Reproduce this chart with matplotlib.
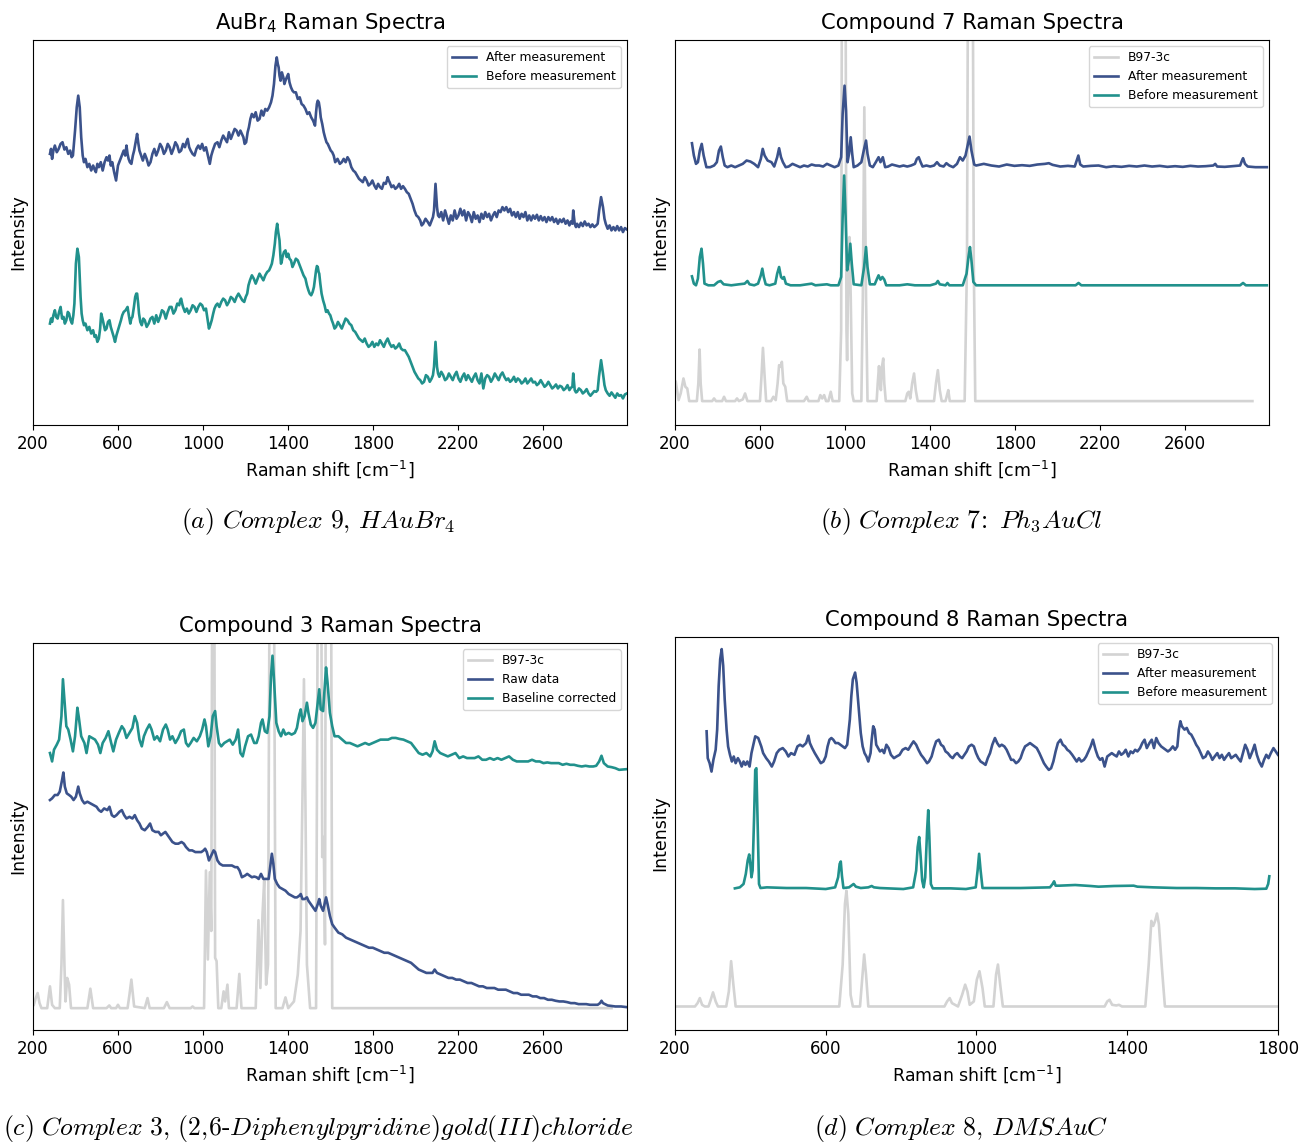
import numpy as np
import matplotlib
matplotlib.use("Agg")
import matplotlib.pyplot as plt

# ---------------- data (Raman shift in cm^-1, intensity in a.u.) ----------------
# (a) AuBr4 -- (shift, intensity) pairs
a_after = [(280, 815), (285, 830), (290, 800), (296, 825), (303, 840), (312, 820), (321, 830), (330, 845), (339, 850), (348, 828),
           (357, 835), (366, 815), (375, 825), (382, 805), (388, 810), (398, 885), (406, 955), (413, 990), (420, 955), (427, 865),
           (434, 810), (440, 790), (447, 800), (456, 775), (465, 785), (474, 765), (483, 780), (490, 768), (496, 760), (503, 785),
           (510, 775), (519, 790), (528, 765), (537, 790), (546, 805), (553, 795), (560, 810), (566, 780), (573, 790), (582, 760),
           (591, 735), (600, 780), (609, 795), (618, 810), (627, 825), (634, 810), (640, 840), (645, 815), (650, 800), (656, 790),
           (663, 785), (670, 810), (676, 825), (683, 850), (690, 875), (695, 850), (701, 825), (709, 810), (717, 795), (726, 815),
           (735, 800), (744, 780), (753, 790), (762, 815), (771, 830), (780, 810), (789, 825), (798, 845), (807, 835), (816, 815),
           (825, 825), (834, 845), (843, 835), (852, 815), (861, 830), (870, 850), (879, 840), (888, 820), (897, 825), (906, 845),
           (915, 835), (922, 850), (928, 860), (935, 835), (942, 825), (951, 815), (960, 810), (969, 830), (978, 840), (987, 830),
           (996, 845), (1005, 825), (1014, 835), (1023, 810), (1032, 785), (1039, 810), (1046, 825), (1057, 845), (1068, 850), (1077, 835),
           (1086, 855), (1095, 870), (1104, 860), (1113, 850), (1122, 880), (1131, 860), (1140, 875), (1149, 890), (1158, 885), (1167, 870),
           (1176, 885), (1183, 875), (1190, 865), (1196, 845), (1203, 850), (1210, 880), (1216, 895), (1223, 920), (1230, 935), (1239, 925),
           (1248, 940), (1257, 915), (1266, 920), (1275, 945), (1284, 930), (1293, 950), (1302, 945), (1311, 955), (1320, 970), (1327, 990),
           (1334, 1025), (1341, 1080), (1347, 1105), (1352, 1085), (1356, 1075), (1360, 1050), (1365, 1035), (1371, 1060), (1378, 1045), (1383, 1025),
           (1388, 1035), (1394, 1045), (1401, 1055), (1407, 1030), (1414, 1015), (1421, 1005), (1428, 1000), (1437, 1000), (1446, 980), (1455, 985),
           (1464, 965), (1473, 960), (1482, 950), (1491, 935), (1500, 940), (1509, 925), (1518, 915), (1527, 900), (1532, 940), (1536, 965),
           (1540, 975), (1545, 970), (1550, 950), (1554, 925), (1561, 905), (1568, 880), (1574, 865), (1581, 850), (1587, 845), (1594, 835),
           (1601, 825), (1608, 820), (1615, 810), (1622, 790), (1633, 800), (1644, 785), (1653, 790), (1662, 800), (1671, 790), (1680, 805),
           (1689, 795), (1698, 775), (1707, 765), (1716, 760), (1725, 750), (1734, 740), (1743, 735), (1752, 730), (1761, 745), (1770, 735),
           (1779, 720), (1788, 725), (1797, 735), (1806, 720), (1815, 710), (1824, 725), (1833, 715), (1842, 710), (1851, 728), (1860, 725),
           (1865, 735), (1869, 745), (1874, 735), (1878, 730), (1887, 715), (1896, 720), (1905, 710), (1914, 715), (1923, 725), (1932, 710),
           (1941, 718), (1950, 710), (1959, 700), (1968, 695), (1977, 680), (1986, 665), (1995, 645), (2004, 630), (2013, 625), (2022, 615),
           (2029, 600), (2036, 605), (2047, 620), (2058, 610), (2067, 600), (2076, 615), (2082, 625), (2087, 645), (2094, 725), (2101, 655),
           (2106, 630), (2112, 625), (2121, 640), (2130, 615), (2139, 645), (2148, 625), (2157, 605), (2166, 630), (2175, 615), (2184, 645),
           (2193, 620), (2202, 630), (2211, 650), (2220, 630), (2229, 645), (2238, 615), (2247, 640), (2256, 630), (2265, 610), (2274, 640),
           (2283, 620), (2292, 630), (2301, 610), (2310, 635), (2319, 620), (2328, 640), (2337, 625), (2346, 635), (2355, 615), (2364, 630),
           (2373, 640), (2382, 625), (2391, 645), (2400, 640), (2409, 655), (2418, 645), (2427, 655), (2436, 640), (2445, 650), (2454, 630),
           (2463, 640), (2472, 625), (2481, 640), (2490, 620), (2499, 635), (2508, 625), (2517, 640), (2526, 615), (2535, 630), (2544, 615),
           (2553, 630), (2562, 620), (2571, 632), (2580, 615), (2589, 628), (2598, 615), (2607, 625), (2616, 610), (2625, 625), (2634, 615),
           (2643, 625), (2652, 610), (2661, 620), (2670, 605), (2679, 618), (2688, 610), (2697, 620), (2706, 605), (2715, 615), (2724, 600),
           (2731, 612), (2738, 605), (2742, 645), (2749, 605), (2755, 595), (2760, 605), (2769, 595), (2778, 608), (2787, 598), (2796, 612),
           (2805, 600), (2814, 605), (2823, 595), (2832, 603), (2841, 595), (2850, 600), (2857, 605), (2864, 645), (2873, 685), (2882, 655),
           (2889, 620), (2895, 605), (2904, 590), (2913, 600), (2922, 585), (2931, 595), (2940, 585), (2949, 598), (2958, 585), (2967, 595),
           (2976, 580), (2985, 592), (2994, 588)]

a_before = [(280, 305), (285, 320), (290, 310), (296, 330), (303, 345), (309, 325), (316, 320), (323, 340), (330, 355), (337, 320),
            (344, 325), (350, 305), (357, 315), (364, 340), (370, 335), (377, 315), (384, 305), (390, 330), (395, 365), (402, 485),
            (409, 530), (416, 505), (424, 385), (429, 335), (434, 315), (440, 300), (447, 305), (456, 285), (465, 295), (474, 275),
            (483, 285), (490, 265), (496, 270), (503, 250), (510, 260), (516, 290), (521, 335), (527, 320), (532, 305), (539, 285),
            (546, 290), (553, 310), (560, 315), (566, 295), (573, 280), (580, 265), (586, 250), (593, 270), (600, 285), (607, 300),
            (614, 315), (620, 330), (627, 340), (636, 345), (645, 355), (651, 330), (658, 305), (663, 320), (668, 325), (675, 355),
            (681, 385), (686, 395), (690, 395), (695, 365), (699, 335), (705, 310), (712, 300), (719, 320), (726, 315), (735, 295),
            (744, 305), (753, 320), (762, 325), (771, 305), (780, 330), (789, 310), (798, 325), (807, 345), (816, 340), (825, 320),
            (834, 340), (843, 355), (852, 355), (861, 335), (870, 345), (879, 365), (888, 360), (893, 375), (897, 380), (902, 365),
            (906, 355), (915, 340), (924, 350), (933, 335), (942, 345), (951, 360), (960, 355), (969, 340), (978, 355), (987, 365),
            (996, 360), (1005, 345), (1014, 350), (1021, 320), (1028, 290), (1034, 300), (1041, 315), (1048, 335), (1054, 350), (1061, 360),
            (1068, 365), (1077, 355), (1086, 370), (1095, 380), (1104, 375), (1113, 360), (1122, 370), (1131, 385), (1140, 380), (1149, 370),
            (1158, 385), (1167, 395), (1176, 385), (1185, 375), (1194, 370), (1201, 385), (1208, 395), (1214, 420), (1221, 435), (1230, 450),
            (1239, 440), (1248, 425), (1257, 440), (1266, 455), (1275, 445), (1284, 435), (1293, 450), (1302, 460), (1311, 465), (1318, 475),
            (1324, 485), (1331, 510), (1338, 545), (1343, 580), (1349, 605), (1354, 580), (1360, 555), (1364, 510), (1367, 485), (1370, 490),
            (1374, 505), (1381, 520), (1388, 525), (1394, 505), (1401, 515), (1407, 500), (1414, 495), (1421, 475), (1428, 485), (1437, 500),
            (1446, 495), (1455, 480), (1464, 465), (1473, 450), (1482, 440), (1489, 420), (1496, 405), (1502, 395), (1509, 390), (1516, 400),
            (1522, 415), (1527, 440), (1532, 465), (1536, 478), (1540, 475), (1544, 460), (1547, 455), (1552, 425), (1558, 395), (1565, 375),
            (1572, 360), (1579, 340), (1586, 345), (1593, 335), (1599, 330), (1606, 315), (1612, 305), (1619, 290), (1626, 295), (1635, 310),
            (1644, 300), (1653, 290), (1662, 305), (1671, 320), (1680, 315), (1689, 305), (1698, 300), (1707, 285), (1716, 280), (1725, 270),
            (1734, 260), (1743, 255), (1752, 250), (1761, 260), (1770, 245), (1779, 235), (1788, 240), (1797, 250), (1806, 235), (1815, 245),
            (1824, 240), (1833, 255), (1842, 245), (1851, 235), (1860, 250), (1869, 260), (1878, 245), (1887, 235), (1896, 240), (1905, 230),
            (1914, 235), (1923, 245), (1932, 230), (1941, 225), (1950, 225), (1959, 215), (1968, 205), (1977, 190), (1986, 175), (1995, 160),
            (2004, 150), (2013, 140), (2022, 135), (2031, 125), (2040, 130), (2049, 150), (2058, 145), (2067, 130), (2076, 140), (2082, 150),
            (2087, 175), (2094, 250), (2101, 175), (2106, 155), (2112, 145), (2121, 160), (2130, 150), (2139, 135), (2148, 140), (2157, 155),
            (2166, 145), (2175, 135), (2184, 150), (2193, 160), (2202, 140), (2211, 130), (2220, 145), (2229, 155), (2238, 135), (2247, 150),
            (2256, 140), (2265, 130), (2274, 145), (2283, 155), (2292, 135), (2301, 125), (2310, 155), (2319, 110), (2328, 140), (2337, 150),
            (2346, 145), (2355, 130), (2364, 140), (2373, 155), (2382, 145), (2391, 135), (2400, 150), (2409, 158), (2418, 145), (2427, 135),
            (2436, 140), (2445, 130), (2454, 135), (2463, 145), (2472, 130), (2481, 140), (2490, 135), (2499, 125), (2508, 130), (2517, 140),
            (2526, 125), (2535, 132), (2544, 140), (2553, 128), (2562, 130), (2571, 120), (2580, 125), (2589, 135), (2598, 125), (2607, 115),
            (2616, 120), (2625, 130), (2634, 120), (2643, 110), (2652, 115), (2661, 122), (2670, 110), (2679, 118), (2688, 115), (2697, 105),
            (2706, 110), (2715, 120), (2724, 105), (2731, 112), (2738, 115), (2742, 155), (2749, 105), (2755, 98), (2760, 100), (2769, 110),
            (2778, 105), (2787, 95), (2796, 100), (2805, 108), (2814, 95), (2823, 88), (2832, 95), (2841, 102), (2850, 100), (2857, 105),
            (2863, 145), (2873, 195), (2882, 155), (2889, 120), (2895, 105), (2904, 95), (2913, 88), (2922, 98), (2931, 90), (2940, 82),
            (2949, 95), (2958, 88), (2967, 90), (2976, 80), (2985, 92), (2994, 95)]

# (b) Compound 7
b_calc_x = [204, 217, 227, 240, 249, 258, 267, 303, 310, 316, 321, 328, 375, 384, 393, 422, 431, 440, 483, 492,
            501, 519, 530, 541, 600, 607, 614, 622, 629, 652, 663, 674, 683, 690, 697, 703, 710, 719, 728, 807,
            820, 829, 875, 884, 893, 902, 911, 922, 933, 942, 973, 982, 987, 1001, 1007, 1010, 1016, 1021, 1027, 1034,
            1041, 1077, 1084, 1091, 1099, 1106, 1149, 1154, 1160, 1165, 1169, 1174, 1180, 1185, 1192, 1284, 1293, 1300, 1307, 1316,
            1325, 1333, 1342, 1419, 1428, 1437, 1446, 1455, 1473, 1480, 1486, 1493, 1563, 1574, 1581, 1599, 1606, 1613, 2917]
b_calc_y = [130, 75, 95, 140, 115, 110, 72, 72, 125, 227, 125, 72, 72, 80, 72, 72, 85, 72, 72, 80,
            72, 77, 95, 72, 72, 145, 232, 145, 72, 72, 85, 75, 125, 180, 175, 190, 125, 115, 72, 72,
            85, 72, 72, 90, 80, 90, 72, 72, 100, 72, 72, 285, 1800, 1800, 285, 195, 485, 565, 385, 95,
            72, 72, 385, 955, 385, 72, 72, 125, 177, 125, 105, 175, 200, 125, 72, 72, 95, 100, 80, 125,
            155, 105, 72, 72, 125, 165, 105, 72, 72, 90, 105, 72, 72, 485, 1800, 1800, 485, 72, 72]

b_after_x = [280, 289, 299, 308, 317, 326, 335, 348, 366, 384, 397, 407, 416, 425, 434, 447, 465, 483, 501, 519,
             537, 555, 573, 591, 604, 613, 622, 636, 654, 667, 681, 690, 699, 708, 721, 735, 753, 771, 789, 807,
             825, 843, 861, 879, 897, 915, 933, 951, 969, 982, 989, 998, 1005, 1012, 1019, 1027, 1034, 1041, 1059, 1077,
             1090, 1099, 1106, 1117, 1131, 1145, 1158, 1167, 1178, 1189, 1203, 1221, 1239, 1257, 1275, 1293, 1311, 1329, 1338, 1347,
             1356, 1365, 1383, 1401, 1419, 1433, 1446, 1464, 1477, 1491, 1509, 1527, 1541, 1554, 1567, 1577, 1586, 1595, 1608, 1617,
             1653, 1689, 1725, 1761, 1797, 1833, 1869, 1905, 1941, 1959, 1977, 2013, 2049, 2081, 2090, 2098, 2107, 2121, 2157, 2193,
             2229, 2265, 2301, 2337, 2373, 2409, 2445, 2481, 2517, 2553, 2589, 2625, 2661, 2697, 2733, 2742, 2751, 2787, 2823, 2859,
             2868, 2873, 2882, 2895, 2931, 2985]
b_after_y = [847, 810, 785, 790, 825, 845, 810, 775, 775, 780, 790, 825, 837, 805, 780, 775, 780, 775, 780, 785,
             795, 792, 785, 775, 800, 830, 810, 795, 790, 777, 805, 832, 805, 790, 775, 777, 785, 780, 775, 780,
             777, 783, 780, 780, 777, 785, 780, 775, 780, 805, 935, 1020, 945, 790, 815, 865, 815, 775, 780, 790,
             830, 855, 815, 780, 775, 790, 805, 790, 805, 775, 777, 783, 780, 777, 780, 777, 780, 785, 800, 805,
             790, 777, 780, 777, 780, 790, 780, 777, 787, 780, 775, 785, 805, 795, 810, 840, 867, 825, 783, 780,
             785, 780, 777, 783, 779, 781, 779, 783, 785, 787, 782, 777, 779, 777, 795, 810, 783, 777, 779, 780,
             775, 778, 776, 779, 777, 780, 777, 779, 776, 778, 776, 779, 777, 778, 780, 785, 777, 776, 778, 780,
             795, 802, 785, 777, 775, 775]

b_before_x = [280, 289, 299, 308, 317, 325, 332, 339, 357, 384, 402, 415, 429, 465, 501, 528, 541, 551, 573, 591,
              604, 611, 618, 627, 645, 672, 681, 690, 699, 706, 713, 722, 744, 789, 843, 861, 915, 933, 969, 982,
              989, 996, 1003, 1010, 1018, 1025, 1032, 1041, 1077, 1090, 1099, 1106, 1117, 1140, 1149, 1158, 1167, 1176, 1185, 1194,
              1257, 1293, 1329, 1401, 1428, 1437, 1446, 1473, 1482, 1491, 1554, 1572, 1581, 1588, 1595, 1604, 1617, 2085, 2099, 2112,
              2859, 2873, 2886, 2985]
b_before_y = [447, 425, 420, 440, 505, 530, 485, 425, 420, 420, 430, 433, 423, 420, 423, 425, 433, 423, 420, 425,
              450, 470, 445, 423, 420, 425, 455, 475, 445, 440, 445, 425, 420, 420, 425, 420, 423, 420, 420, 445,
              625, 750, 625, 465, 495, 545, 485, 423, 420, 475, 535, 475, 423, 423, 437, 450, 437, 445, 437, 420,
              420, 423, 420, 420, 425, 433, 423, 420, 427, 420, 420, 455, 505, 535, 495, 430, 420, 420, 427, 420,
              420, 427, 420, 420]

# (c) Compound 3
c_calc_x = [204, 213, 222, 231, 240, 267, 280, 290, 303, 326, 334, 341, 348, 353, 361, 370, 379, 456, 470, 483,
            546, 559, 568, 591, 600, 609, 645, 654, 663, 676, 726, 739, 749, 816, 830, 843, 942, 951, 960, 1005,
            1014, 1023, 1032, 1039, 1045, 1052, 1057, 1064, 1072, 1086, 1097, 1104, 1115, 1122, 1158, 1171, 1181, 1248, 1261, 1270,
            1280, 1288, 1297, 1306, 1316, 1331, 1342, 1374, 1388, 1401, 1428, 1446, 1459, 1468, 1475, 1482, 1489, 1504, 1532, 1543,
            1554, 1561, 1568, 1574, 1579, 1601, 1608, 2922]
c_calc_y = [75, 95, 110, 80, 65, 65, 130, 75, 65, 65, 195, 387, 195, 85, 155, 135, 65, 65, 123, 65,
            65, 73, 65, 65, 75, 65, 65, 105, 150, 70, 65, 95, 65, 65, 83, 65, 65, 70, 65, 65,
            475, 210, 470, 295, 1800, 1800, 215, 205, 65, 65, 115, 85, 135, 65, 65, 167, 65, 65, 327, 125,
            345, 445, 135, 195, 1800, 1800, 65, 65, 97, 65, 85, 165, 295, 695, 1045, 675, 195, 65, 65, 1800,
            1800, 515, 575, 255, 1800, 1800, 65, 65]

c_raw_x = [280, 290, 303, 316, 326, 337, 343, 350, 359, 370, 380, 391, 402, 413, 420, 431, 442, 456, 470, 485,
           499, 510, 521, 535, 550, 560, 571, 582, 593, 607, 618, 629, 640, 654, 668, 679, 690, 701, 712, 726,
           740, 751, 762, 776, 791, 802, 812, 823, 834, 845, 856, 870, 884, 899, 910, 920, 935, 949, 964, 978,
           992, 1003, 1010, 1018, 1028, 1039, 1050, 1057, 1068, 1079, 1093, 1108, 1122, 1136, 1151, 1162, 1172, 1183, 1198, 1208,
           1219, 1230, 1241, 1252, 1262, 1273, 1284, 1298, 1309, 1316, 1324, 1331, 1338, 1349, 1360, 1374, 1388, 1403, 1417, 1432,
           1442, 1453, 1460, 1468, 1478, 1489, 1496, 1507, 1518, 1529, 1540, 1547, 1554, 1565, 1572, 1579, 1586, 1597, 1608, 1619,
           1637, 1655, 1673, 1691, 1709, 1727, 1745, 1763, 1781, 1799, 1817, 1835, 1853, 1871, 1889, 1907, 1925, 1943, 1961, 1979,
           1997, 2015, 2033, 2051, 2069, 2080, 2090, 2101, 2119, 2137, 2155, 2173, 2191, 2209, 2227, 2245, 2263, 2281, 2299, 2317,
           2335, 2353, 2371, 2389, 2407, 2425, 2443, 2461, 2479, 2497, 2515, 2533, 2551, 2569, 2587, 2605, 2623, 2641, 2659, 2677,
           2695, 2713, 2731, 2749, 2767, 2785, 2803, 2821, 2839, 2857, 2868, 2875, 2882, 2904, 2940, 2967, 2994]
c_raw_y = [685, 690, 700, 700, 710, 745, 767, 725, 705, 700, 695, 685, 695, 725, 705, 685, 675, 680, 675, 670,
           665, 655, 650, 660, 655, 665, 640, 635, 640, 650, 655, 640, 630, 635, 630, 640, 625, 615, 600, 595,
           605, 615, 595, 590, 590, 580, 585, 590, 580, 570, 560, 555, 555, 560, 555, 545, 535, 535, 530, 530,
           530, 535, 540, 530, 505, 520, 535, 530, 505, 495, 490, 490, 490, 490, 485, 485, 475, 455, 460, 465,
           460, 455, 457, 455, 450, 465, 450, 450, 450, 485, 525, 495, 450, 435, 425, 420, 415, 405, 400, 395,
           395, 400, 405, 390, 390, 395, 385, 375, 365, 355, 375, 390, 370, 355, 375, 395, 375, 340, 315, 305,
           290, 285, 275, 270, 265, 260, 255, 250, 245, 245, 240, 235, 230, 230, 225, 220, 215, 210, 205, 200,
           190, 180, 175, 170, 170, 170, 180, 170, 165, 160, 155, 155, 150, 150, 145, 140, 140, 135, 130, 130,
           125, 125, 125, 120, 120, 120, 115, 110, 110, 105, 105, 105, 100, 100, 95, 95, 90, 90, 87, 85,
           85, 83, 80, 80, 77, 77, 77, 75, 75, 75, 80, 87, 80, 73, 70, 70, 68]

c_corr_x = [280, 290, 299, 312, 323, 334, 341, 348, 357, 366, 377, 388, 398, 409, 416, 427, 442, 452, 465, 478,
            492, 506, 517, 528, 542, 555, 568, 578, 591, 604, 618, 629, 640, 654, 668, 679, 690, 701, 712, 722,
            735, 748, 758, 771, 784, 798, 812, 825, 834, 845, 856, 870, 884, 897, 910, 920, 931, 942, 956, 971,
            985, 996, 1007, 1014, 1025, 1036, 1046, 1057, 1064, 1075, 1086, 1100, 1113, 1126, 1140, 1154, 1165, 1176, 1187, 1198,
            1212, 1226, 1241, 1252, 1262, 1273, 1280, 1291, 1302, 1313, 1320, 1327, 1334, 1345, 1356, 1367, 1378, 1388, 1403, 1417,
            1432, 1442, 1453, 1460, 1468, 1478, 1489, 1496, 1507, 1518, 1529, 1540, 1547, 1554, 1565, 1572, 1579, 1586, 1597, 1608,
            1619, 1637, 1655, 1673, 1691, 1709, 1727, 1745, 1763, 1781, 1799, 1817, 1835, 1853, 1871, 1889, 1907, 1925, 1943, 1961,
            1979, 1997, 2015, 2033, 2051, 2069, 2080, 2090, 2101, 2116, 2134, 2152, 2170, 2188, 2206, 2224, 2242, 2260, 2278, 2296,
            2314, 2332, 2350, 2368, 2386, 2404, 2422, 2440, 2458, 2476, 2494, 2512, 2530, 2548, 2566, 2584, 2602, 2620, 2638, 2656,
            2674, 2692, 2710, 2728, 2746, 2764, 2782, 2800, 2818, 2836, 2850, 2864, 2875, 2886, 2904, 2922, 2940, 2958, 2994]
c_corr_y = [825, 800, 835, 850, 865, 935, 1045, 985, 905, 895, 865, 830, 875, 960, 930, 875, 855, 825, 875, 870,
            865, 850, 825, 855, 870, 890, 855, 830, 865, 885, 905, 895, 870, 885, 900, 935, 915, 865, 845, 875,
            895, 910, 895, 865, 875, 860, 895, 910, 895, 865, 875, 855, 870, 890, 895, 855, 845, 855, 870, 860,
            875, 895, 925, 905, 845, 875, 935, 950, 905, 855, 845, 855, 860, 865, 850, 865, 895, 825, 815, 845,
            875, 880, 855, 855, 875, 915, 925, 890, 885, 935, 1055, 1115, 1045, 915, 890, 875, 895, 880, 885, 880,
            885, 900, 940, 955, 920, 935, 975, 945, 910, 900, 915, 975, 1015, 955, 950, 1015, 1080, 1035, 945, 905,
            875, 875, 865, 855, 855, 850, 845, 850, 855, 850, 855, 860, 865, 865, 865, 870, 870, 867, 865, 860,
            855, 840, 825, 820, 825, 815, 830, 860, 835, 825, 820, 815, 820, 825, 810, 815, 810, 810, 810, 815,
            805, 805, 810, 805, 810, 805, 810, 815, 805, 800, 800, 800, 800, 805, 800, 800, 795, 797, 795, 795,
            795, 790, 793, 790, 790, 787, 785, 787, 785, 785, 787, 800, 817, 795, 785, 783, 780, 775, 777]

# (d) Compound 8
d_calc_x = [201, 253, 260, 266, 272, 279, 289, 295, 301, 308, 314, 336, 343, 349, 355, 361, 636, 645, 651, 655,
            660, 666, 672, 691, 697, 702, 707, 713, 915, 922, 929, 935, 951, 962, 970, 976, 982, 993, 1001, 1008,
            1016, 1022, 1045, 1052, 1057, 1063, 1070, 1340, 1347, 1353, 1360, 1371, 1378, 1386, 1448, 1457, 1464, 1469, 1474, 1479,
            1484, 1492, 1500, 1800]
d_calc_y = [70, 70, 80, 95, 75, 70, 70, 90, 112, 85, 70, 70, 115, 205, 135, 70, 70, 195, 375, 415,
            345, 105, 70, 70, 155, 225, 165, 70, 70, 85, 95, 80, 70, 105, 135, 115, 75, 85, 150, 175,
            125, 70, 70, 165, 195, 135, 70, 70, 85, 90, 75, 73, 75, 70, 70, 195, 325, 310, 325, 347,
            315, 185, 70, 70]

d_after_x = [284, 287, 292, 297, 302, 308, 312, 316, 320, 324, 328, 332, 337, 341, 346, 351, 356, 361, 367, 372,
             377, 382, 387, 392, 398, 403, 408, 413, 421, 429, 434, 442, 449, 457, 463, 470, 477, 486, 494, 501,
             508, 517, 525, 532, 539, 548, 554, 558, 564, 571, 579, 587, 594, 600, 605, 610, 615, 620, 626, 633,
             639, 645, 651, 657, 664, 668, 672, 678, 682, 687, 693, 698, 703, 708, 713, 719, 722, 726, 730, 734,
             739, 744, 750, 755, 761, 767, 773, 781, 788, 796, 804, 812, 819, 827, 833, 840, 846, 853, 860, 869,
             874, 881, 887, 893, 900, 906, 912, 918, 924, 931, 937, 943, 949, 956, 962, 968, 974, 980, 987, 993,
             999, 1005, 1011, 1018, 1024, 1030, 1036, 1042, 1049, 1055, 1061, 1067, 1074, 1080, 1086, 1092, 1098, 1105, 1111, 1117,
             1123, 1129, 1136, 1142, 1148, 1154, 1160, 1167, 1173, 1179, 1185, 1192, 1198, 1204, 1210, 1216, 1223, 1229, 1235, 1241,
             1247, 1254, 1260, 1266, 1272, 1278, 1285, 1291, 1297, 1303, 1309, 1316, 1322, 1328, 1334, 1340, 1347, 1353, 1359, 1365,
             1372, 1378, 1384, 1390, 1396, 1403, 1409, 1415, 1421, 1427, 1434, 1440, 1446, 1452, 1459, 1465, 1471, 1477, 1483, 1490,
             1496, 1502, 1508, 1514, 1521, 1527, 1533, 1537, 1541, 1545, 1552, 1558, 1564, 1570, 1577, 1583, 1589, 1595, 1601, 1608,
             1614, 1620, 1626, 1632, 1639, 1645, 1651, 1657, 1663, 1670, 1676, 1682, 1688, 1694, 1701, 1707, 1713, 1719, 1725, 1732,
             1738, 1744, 1750, 1757, 1763, 1769, 1775, 1781, 1788, 1794, 1800]
d_after_y = [890, 810, 795, 770, 805, 835, 895, 1025, 1105, 1135, 1085, 985, 895, 845, 820, 800, 815, 795, 810, 800,
             785, 800, 790, 800, 785, 825, 850, 875, 870, 845, 825, 810, 800, 785, 800, 825, 835, 840, 830, 815,
             825, 820, 845, 850, 845, 855, 877, 855, 840, 825, 810, 795, 800, 815, 845, 865, 870, 865, 855, 855,
             850, 845, 840, 850, 925, 995, 1045, 1065, 1035, 965, 885, 845, 825, 815, 800, 825, 865, 905, 895, 850,
             840, 830, 835, 825, 850, 840, 820, 810, 815, 820, 835, 840, 835, 850, 860, 850, 835, 820, 810, 795,
             800, 815, 840, 860, 865, 850, 845, 830, 825, 815, 810, 820, 825, 815, 810, 820, 830, 845, 850, 845,
             825, 810, 800, 795, 790, 810, 825, 850, 870, 855, 845, 850, 845, 835, 820, 805, 805, 795, 800, 810,
             830, 845, 850, 855, 850, 845, 840, 825, 810, 795, 785, 775, 780, 800, 830, 855, 865, 850, 845, 835,
             830, 820, 810, 800, 810, 800, 805, 815, 830, 845, 865, 835, 815, 805, 810, 785, 815, 820, 825, 820,
             815, 830, 820, 825, 835, 815, 830, 825, 835, 830, 840, 855, 865, 840, 855, 865, 840, 870, 855, 845,
             840, 835, 830, 835, 845, 835, 845, 895, 920, 905, 895, 900, 885, 880, 865, 850, 840, 825, 810, 815,
             830, 820, 805, 815, 825, 810, 820, 805, 815, 825, 810, 815, 820, 810, 800, 825, 850, 835, 810, 830,
             850, 820, 800, 785, 805, 820, 810, 825, 840, 830, 820]

d_before_x = [359, 372, 382, 388, 393, 397, 400, 403, 406, 410, 413, 416, 419, 423, 427, 444, 496, 548, 600, 625,
              633, 637, 640, 643, 647, 662, 668, 674, 680, 693, 713, 722, 728, 744, 806, 832, 840, 844, 848, 852,
              856, 860, 864, 869, 872, 875, 879, 884, 931, 972, 998, 1003, 1007, 1011, 1016, 1045, 1117, 1195, 1202, 1206,
              1210, 1220, 1262, 1303, 1324, 1365, 1417, 1427, 1469, 1531, 1583, 1634, 1686, 1738, 1769, 1774, 1777]
d_before_y = [422, 425, 435, 465, 505, 523, 495, 455, 475, 635, 775, 780, 635, 435, 423, 425, 423, 423, 420, 425,
              455, 495, 502, 460, 423, 425, 430, 435, 427, 423, 425, 429, 425, 423, 420, 425, 475, 545, 575, 515,
              445, 425, 455, 595, 655, 575, 435, 422, 422, 420, 425, 475, 525, 475, 423, 423, 423, 425, 435, 443,
              430, 430, 432, 429, 427, 429, 430, 427, 425, 423, 423, 422, 422, 420, 421, 435, 458]

blue = "#3b528b"
teal = "#21918c"
grey = "lightgrey"
lw = 1.9

wide_ticks = [200, 600, 1000, 1400, 1800, 2200, 2600]
narrow_ticks = [200, 600, 1000, 1400, 1800]

fig = plt.figure(figsize=(13.03, 11.42), dpi=100)


def style_axes(ax, title, ticks, xlim, ylim):
    ax.set_title(title, fontsize=15.2, pad=8)
    ax.set_xlabel(r"Raman shift [cm$^{-1}$]", fontsize=12.5)
    ax.set_ylabel("Intensity", fontsize=12.5)
    ax.set_xticks(ticks)
    ax.tick_params(axis="x", labelsize=12)
    ax.set_yticks([])
    ax.set_xlim(*xlim)
    ax.set_ylim(*ylim)
    ax.legend(loc="upper right", fontsize=8.8)


# (a)
ax = fig.add_axes([0.0253, 0.6278, 0.4559, 0.3371])
x, y = zip(*a_after)
ax.plot(x, y, color=blue, lw=lw, label="After measurement")
x, y = zip(*a_before)
ax.plot(x, y, color=teal, lw=lw, label="Before measurement")
style_axes(ax, r"AuBr$_4$ Raman Spectra", wide_ticks, (200, 2995), (0, 1157))

# (b)
ax = fig.add_axes([0.518, 0.6278, 0.4559, 0.3371])
ax.plot(b_calc_x, b_calc_y, color=grey, lw=lw, label="B97-3c")
ax.plot(b_after_x, b_after_y, color=blue, lw=lw, label="After measurement")
ax.plot(b_before_x, b_before_y, color=teal, lw=lw, label="Before measurement")
style_axes(ax, "Compound 7 Raman Spectra", wide_ticks, (200, 2995), (0, 1157))

# (c)
ax = fig.add_axes([0.0253, 0.0981, 0.4559, 0.3389])
ax.plot(c_calc_x, c_calc_y, color=grey, lw=lw, label="B97-3c")
ax.plot(c_raw_x, c_raw_y, color=blue, lw=lw, label="Raw data")
ax.plot(c_corr_x, c_corr_y, color=teal, lw=lw, label="Baseline corrected")
style_axes(ax, "Compound 3 Raman Spectra", wide_ticks, (200, 2995), (0, 1153))

# (d)
ax = fig.add_axes([0.518, 0.0981, 0.4628, 0.3441])
ax.plot(d_calc_x, d_calc_y, color=grey, lw=lw, label="B97-3c")
ax.plot(d_after_x, d_after_y, color=blue, lw=lw, label="After measurement")
ax.plot(d_before_x, d_before_y, color=teal, lw=lw, label="Before measurement")
style_axes(ax, "Compound 8 Raman Spectra", narrow_ticks, (200, 1800), (0, 1171))

# sub-captions
captions = [
    (0.244, 0.543, r"$(a)\ Complex\ 9,\,HAuBr_4$"),
    (0.738, 0.543, r"$(b)\ Complex\ 7\!:\ Ph_3AuCl$"),
    (0.244, 0.012, r"$(c)\ Complex\ 3,\,(2,\!6\text{-}Diphenylpyridine)gold(III)chloride$"),
    (0.738, 0.012, r"$(d)\ Complex\ 8,\,DMSAuC$"),
]
for cx, cy, txt in captions:
    fig.text(cx, cy, txt, ha="center", va="center", fontsize=18.5, math_fontfamily="cm")

fig.savefig("out.png", dpi=100)
